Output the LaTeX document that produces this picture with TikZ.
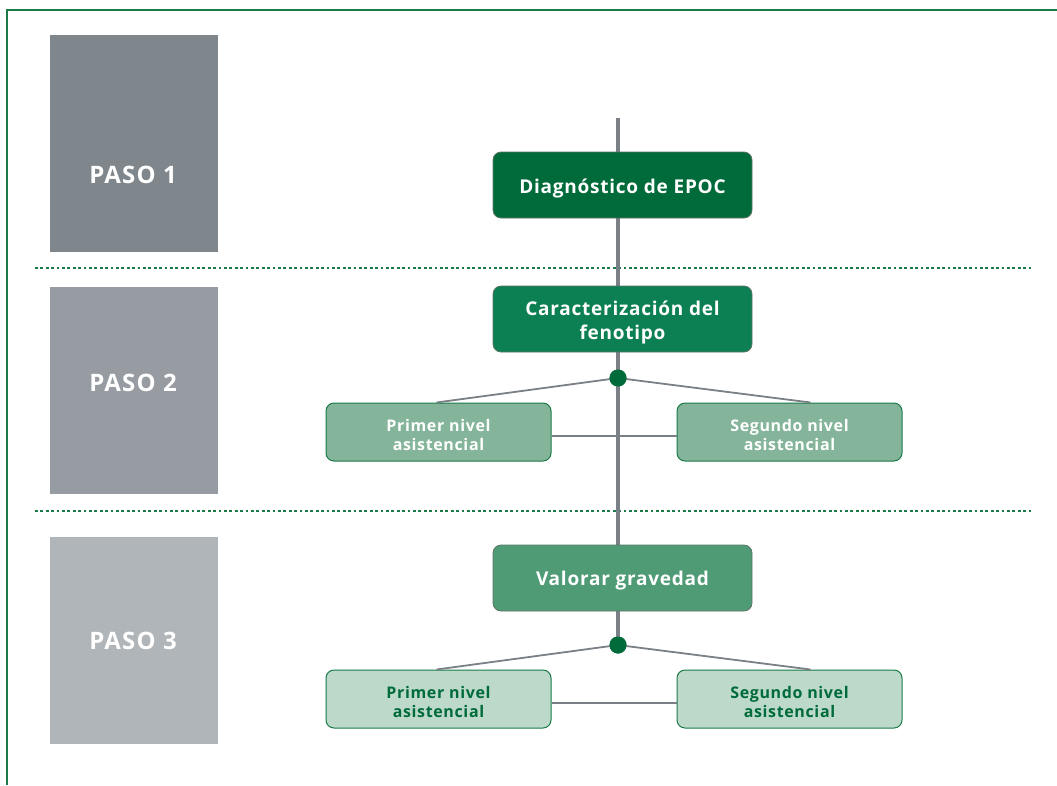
\documentclass[tikz,border=0pt]{standalone}
\usepackage{fontspec}
\setmainfont{Open Sans}[LetterSpace=4]
\newfontfamily\pasofont{Open Sans}[LetterSpace=5]
% gives the first line of box text extra head room, so it sits a little lower
\newcommand\lowr[1]{\raisebox{0pt}[\dimexpr\height+6pt\relax]{#1}}
\begin{document}
\begin{tikzpicture}[x=1pt,y=-1pt,
  frame/.style={draw=frameGreen,line width=1.4pt},
  pasolabel/.style={text=white,font=\pasofont\bfseries\fontsize{24}{28}\selectfont},
  divider/.style={draw=frameGreen,line width=2.8pt,dash pattern=on 2.8pt off 2.6pt},
  spine/.style={draw=spineGray,line width=3.4pt},
  branch/.style={draw=spineGray,line width=1.8pt},
  bigbox/.style={draw=boxEdge,line width=0.8pt,rounded corners=8pt,minimum width=259pt,minimum height=66pt,text=white,font=\bfseries\fontsize{19}{24}\selectfont,align=center,inner sep=0pt},
  smallbox/.style={draw=frameGreen,line width=1pt,rounded corners=8pt,minimum width=225pt,minimum height=58pt,font=\bfseries\fontsize{16}{19.5}\selectfont,align=center,inner sep=0pt},
  hub/.style={circle,fill=darkGreen,minimum size=17pt,inner sep=0pt}
]
\definecolor{frameGreen}{HTML}{1A7A48}
\definecolor{darkGreen}{HTML}{006B3A}
\definecolor{spineGray}{HTML}{7A8086}
\definecolor{boxEdge}{HTML}{5E7468}
\useasboundingbox (0,0) rectangle (1057,785);
% page frame
\draw[frame] (1057,10) -- (7,10) -- (7,785);
% step bands
\fill[fill={rgb,255:red,127;green,134;blue,140}] (50,35) rectangle (218,252);
\fill[fill={rgb,255:red,150;green,156;blue,162}] (50,287) rectangle (218,494);
\fill[fill={rgb,255:red,176;green,181;blue,185}] (50,537) rectangle (218,744);
\node[pasolabel] (p1) at (133,175) {PASO 1};
\node[pasolabel] (p2) at (133,383) {PASO 2};
\node[pasolabel] (p3) at (133,641) {PASO 3};
% separators
\draw[divider] (35,268) -- (1033,268);
\draw[divider] (35,511) -- (1033,511);
% spine
\coordinate (top) at (618,118);
\node[hub] (h1) at (618,378) {};
\node[hub] (h2) at (618,645) {};
\draw[spine] (top) -- (h2.center);
% main boxes
\node[bigbox,fill={rgb,255:red,0;green,107;blue,58}] (diag) at (622.5,185) {\lowr{Diagnóstico de EPOC}};
\node[bigbox,fill={rgb,255:red,12;green,128;blue,82}] (car) at (622.5,319) {\lowr{Caracterización del}\\fenotipo};
\node[bigbox,fill={rgb,255:red,79;green,155;blue,118}] (val) at (622.5,578) {\lowr{Valorar gravedad}};
% level boxes, step 2
\node[smallbox,fill={rgb,255:red,132;green,181;blue,154},text=white] (a1) at (438.5,432) {\lowr{Primer nivel}\\asistencial};
\node[smallbox,fill={rgb,255:red,132;green,181;blue,154},text=white] (b1) at (789.5,432) {\lowr{Segundo nivel}\\asistencial};
% level boxes, step 3
\node[smallbox,fill={rgb,255:red,188;green,217;blue,201},text=darkGreen] (a2) at (438.5,699) {\lowr{Primer nivel}\\asistencial};
\node[smallbox,fill={rgb,255:red,188;green,217;blue,201},text=darkGreen] (b2) at (789.5,699) {\lowr{Segundo nivel}\\asistencial};
% branches
\draw[branch] (h1.center) -- ([xshift=-2pt]a1.north);
\draw[branch] (h1.center) -- ([xshift=21pt]b1.north);
\draw[branch] ([yshift=-4pt]a1.east) -- ([yshift=-4pt]b1.west);
\draw[branch] (h2.center) -- ([xshift=-2pt]a2.north);
\draw[branch] (h2.center) -- ([xshift=21pt]b2.north);
\draw[branch] ([yshift=-4pt]a2.east) -- ([yshift=-4pt]b2.west);
\node[hub] at (h1) {};
\node[hub] at (h2) {};
\end{tikzpicture}
\end{document}
